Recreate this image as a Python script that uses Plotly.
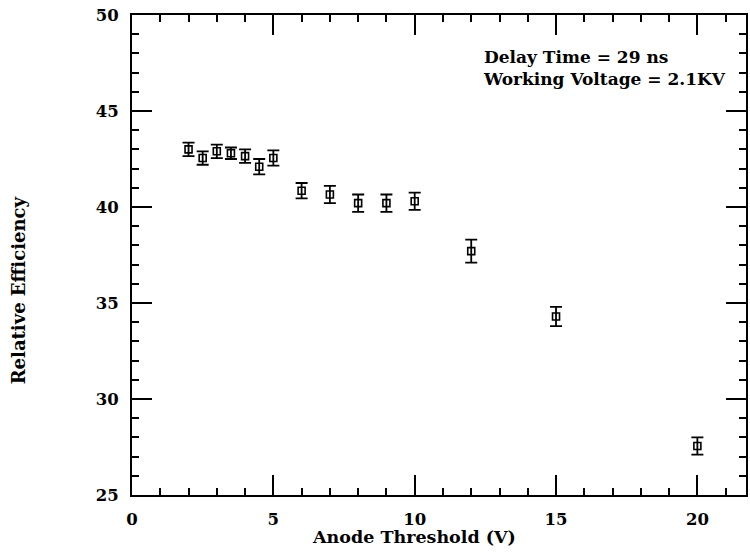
import plotly.graph_objects as go

threshold = [2, 2.5, 3, 3.5, 4, 4.5, 5, 6, 7, 8, 9, 10, 12, 15, 20]
efficiency = [43.0, 42.55, 42.9, 42.8, 42.65, 42.1, 42.55, 40.85, 40.65, 40.2, 40.2, 40.3, 37.7, 34.3, 27.55]
error = [0.35, 0.35, 0.35, 0.3, 0.35, 0.4, 0.4, 0.4, 0.45, 0.45, 0.45, 0.45, 0.6, 0.5, 0.45]

FONT = "DejaVu Serif"

fig = go.Figure()
fig.add_trace(go.Scatter(
    x=threshold, y=efficiency, mode="markers",
    marker=dict(symbol="square-open", size=7, color="black", line=dict(width=1.6, color="black")),
    error_y=dict(type="data", array=error, visible=True, color="black", thickness=1.8, width=6),
    showlegend=False,
))

axis_common = dict(
    showline=True, linewidth=2, linecolor="black", mirror="allticks",
    ticks="inside", ticklen=20, tickwidth=1.5, tickcolor="black",
    showgrid=False, zeroline=False,
    tickfont=dict(family=FONT, size=16.5, color="black", weight="bold"),
    minor=dict(ticks="inside", ticklen=7, tickwidth=1.5, tickcolor="black", dtick=1, showgrid=False),
    ticklabelstandoff=8,
)

fig.update_layout(
    width=750, height=552,
    margin=dict(l=132, r=2, t=15, b=57),
    paper_bgcolor="white", plot_bgcolor="white",
    xaxis=dict(range=[0, 21.72], tickvals=[0, 5, 10, 15, 20], **axis_common),
    yaxis=dict(range=[25, 50], tickvals=[25, 30, 35, 40, 45, 50], **axis_common),
    annotations=[
        dict(text="Anode Threshold (V)", xref="paper", yref="paper", x=(415 - 132) / 616, y=-0.088,
             showarrow=False, xanchor="center", yanchor="middle",
             font=dict(family=FONT, size=17.5, color="black", weight="bold")),
        dict(text="Relative Efficiency", xref="paper", yref="paper", x=(18 - 132) / 616, y=(495 - 290) / 480,
             showarrow=False, xanchor="center", yanchor="middle", textangle=-90,
             font=dict(family=FONT, size=18, color="black", weight="bold")),
        dict(text="Delay Time = 29 ns<br>Working Voltage = 2.1KV", xref="paper", yref="paper",
             x=(482 - 132) / 616, y=(495 - 45) / 480, showarrow=False, xanchor="left", yanchor="top",
             align="left", font=dict(family=FONT, size=17, color="black", weight="bold")),
    ],
)

fig.write_html("out.html")
